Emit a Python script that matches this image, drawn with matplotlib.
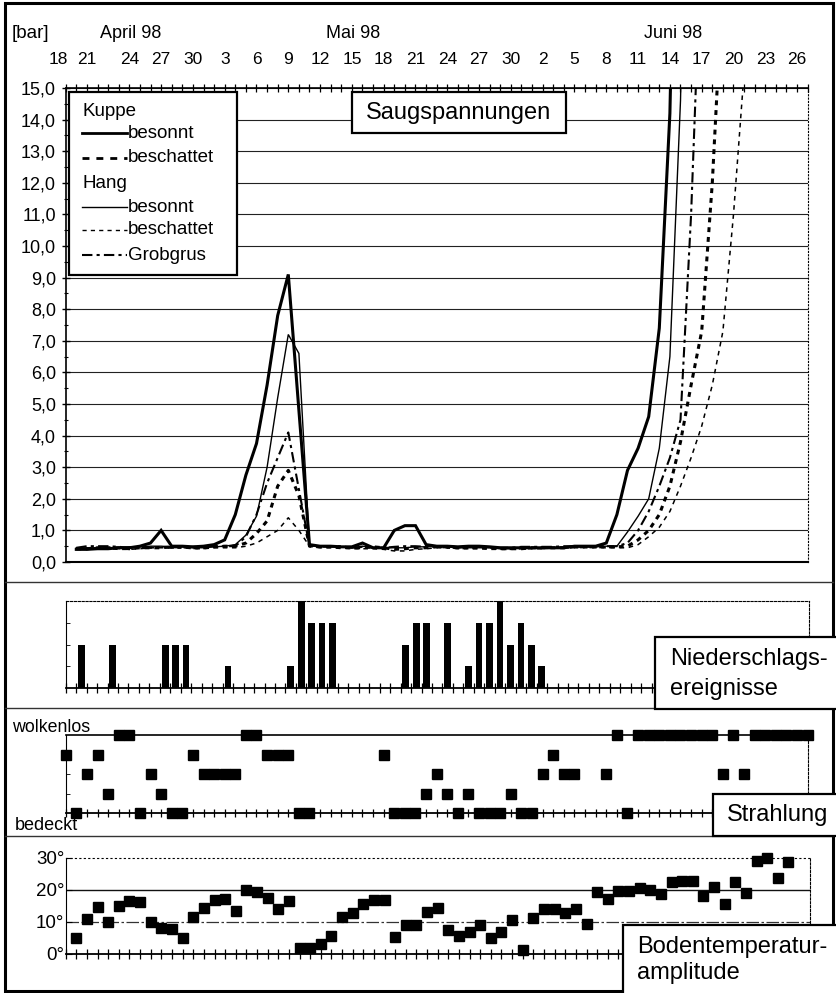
import matplotlib
matplotlib.use("Agg")
import matplotlib.pyplot as plt
import numpy as np
from matplotlib.patches import Rectangle
from matplotlib.lines import Line2D
from matplotlib.ticker import MultipleLocator
from matplotlib.transforms import ScaledTranslation

plt.rcParams['font.family'] = ['Liberation Sans', 'DejaVu Sans']

# ---------------- data (day index 0 = 18 April 1998) ----------------
tick_labels = ['18', '21', '24', '27', '30', '3', '6', '9', '12', '15', '18', '21',
               '24', '27', '30', '2', '5', '8', '11', '14', '17', '20', '23', '26']
months = ['April 98', 'Mai 98', 'Juni 98']

kuppe_besonnt = [None, 0.40, 0.40, 0.42, 0.42, 0.45, 0.45, 0.50, 0.60, 1.00, 0.50, 0.50, 0.48,
                 0.50, 0.55, 0.70, 1.50, 2.75, 3.75, 5.60, 7.80, 9.10, 4.80, 0.55, 0.50, 0.50,
                 0.48, 0.48, 0.60, 0.45, 0.45, 1.00, 1.15, 1.15, 0.55, 0.50, 0.50, 0.48, 0.50,
                 0.50, 0.48, 0.45, 0.45, 0.45, 0.45, 0.45, 0.45, 0.45, 0.50, 0.50, 0.50, 0.60,
                 1.50, 2.90, 3.60, 4.60, 7.40, 14.20, 30.0]
kuppe_beschattet = [None, 0.42, 0.42, 0.45, 0.45, 0.45, 0.42, 0.45, 0.45, 0.45, 0.48, 0.48, 0.45,
                    0.45, 0.48, 0.50, 0.50, 0.60, 0.90, 1.30, 2.40, 2.90, 2.10, 0.50, 0.48, 0.48,
                    0.45, 0.45, 0.45, 0.48, 0.45, 0.40, 0.42, 0.45, 0.45, 0.48, 0.48, 0.45, 0.45,
                    0.45, 0.45, 0.42, 0.42, 0.42, 0.45, 0.45, 0.45, 0.45, 0.48, 0.48, 0.48, 0.48,
                    0.48, 0.50, 0.70, 1.00, 1.50, 2.40, 3.80, 5.60, 7.30, 12.0, 18.5]
hang_besonnt = [None, 0.45, 0.45, 0.45, 0.45, 0.45, 0.48, 0.48, 0.50, 0.50, 0.48, 0.48, 0.45,
                0.45, 0.48, 0.50, 0.55, 0.85, 1.45, 3.00, 5.20, 7.20, 6.60, 0.50, 0.50, 0.48,
                0.48, 0.45, 0.50, 0.45, 0.45, 0.45, 0.45, 0.48, 0.48, 0.50, 0.48, 0.48, 0.45,
                0.45, 0.45, 0.42, 0.42, 0.45, 0.45, 0.45, 0.45, 0.48, 0.48, 0.48, 0.48, 0.50,
                0.50, 0.95, 1.45, 2.00, 3.60, 6.50, 14.60, 30.0]
hang_beschattet = [None, 0.40, 0.40, 0.42, 0.42, 0.40, 0.40, 0.42, 0.45, 0.45, 0.45, 0.45, 0.42,
                   0.42, 0.45, 0.45, 0.45, 0.50, 0.60, 0.80, 1.00, 1.40, 1.00, 0.50, 0.45, 0.45,
                   0.45, 0.42, 0.42, 0.42, 0.40, 0.35, 0.35, 0.40, 0.42, 0.45, 0.45, 0.42, 0.42,
                   0.42, 0.40, 0.40, 0.40, 0.42, 0.42, 0.42, 0.45, 0.45, 0.45, 0.45, 0.45, 0.45,
                   0.45, 0.45, 0.55, 0.80, 1.10, 1.60, 2.40, 3.30, 4.30, 5.60, 7.30, 11.0, 15.5, 25.0]
grobgrus = [None, 0.45, 0.50, 0.50, 0.50, 0.48, 0.45, 0.45, 0.45, 0.48, 0.45, 0.45, 0.48,
            0.48, 0.50, 0.50, 0.50, 0.80, 1.50, 2.50, 3.30, 4.10, 2.30, 0.50, 0.48, 0.50,
            0.50, 0.45, 0.48, 0.45, 0.45, 0.48, 0.50, 0.50, 0.48, 0.48, 0.45, 0.45, 0.48,
            0.48, 0.45, 0.45, 0.45, 0.48, 0.48, 0.48, 0.48, 0.50, 0.50, 0.50, 0.50, 0.50,
            0.50, 0.60, 1.00, 1.60, 2.40, 3.30, 4.50, 11.0, 20.0]

rain_days = [1, 4, 9, 10, 11, 15, 21, 22, 23, 24, 25, 32, 33, 34, 36, 38, 39, 40, 41, 42, 43, 44, 45]
rain_level = [2, 2, 2, 2, 2, 1, 1, 4, 3, 3, 3, 2, 3, 3, 3, 1, 3, 3, 4, 2, 3, 2, 1]

strahlung = [3, 0, 2, 3, 1, 4, 4, 0, 2, 1, 0, 0, 3, 2, 2, 2, 2, 4, 4, 3, 3, 3, 0, 0,
             None, None, None, None, None, None,
             3, 0, 0, 0, 1, 2, 1, 0, 1, 0, 0, 0, 1, 0, 0, 2, 3, 2, 2,
             None, None,
             2, 4, 0, 4, 4, 4, 4, 4, 4, 4, 4, 2, 4, 2, 4, 4, 4, 4, 4, 4]

bodentemp = [None, 4.9, 10.8, 14.8, 9.9, 15.1, 16.7, 16.1, 9.9, 8.0, 7.7, 4.9, 11.7, 14.3,
             16.9, 17.2, 13.5, 20.0, 19.5, 17.4, 14.0, 16.6, 1.8, 2.0, 3.0, 5.6, 11.5, 12.7,
             15.5, 16.9, 16.9, 5.4, 9.1, 9.1, 13.0, 14.3, 7.5, 5.7, 6.8, 9.1, 5.1, 7.0, 10.6,
             1.25, 11.1, 14.0, 14.0, 12.7, 14.0, 9.4, 19.3, 17.2, 19.7, 19.7, 20.7, 20.0,
             18.75, 22.4, 22.8, 22.9, 18.2, 21.0, 15.6, 22.6, 19.2, 29.2, 29.9, 23.7, 28.7]

# ---------------- layout helpers (pixel coords, origin top-left) ----------------
W, H = 836, 993
fig = plt.figure(figsize=(W / 100, H / 100), dpi=100)


def fx(x):
    return x / W


def fy(y):
    return 1 - y / H


def axrect(l, t, r, b):
    return [l / W, 1 - b / H, (r - l) / W, (b - t) / H]


def arr(s):
    return np.array([np.nan if v is None else v for v in s], dtype=float)


XL, XR = 65.7, 807.7
NDAYS = 70

# ---------------- main chart ----------------
ax = fig.add_axes(axrect(XL, 88, XR, 562))
ax.set_xlim(0, NDAYS)
ax.set_ylim(0, 15)
for yv in range(1, 16):
    ax.axhline(yv, color='#222222', lw=0.8, zorder=1)

styles = [
    (kuppe_besonnt, dict(color='black', lw=2.2, ls='-')),
    (hang_besonnt, dict(color='black', lw=1.0, ls='-')),
    (grobgrus, dict(color='black', lw=1.5, dashes=(5, 2, 1.5, 2))),
    (kuppe_beschattet, dict(color='black', lw=2.2, dashes=(1.6, 1.6))),
    (hang_beschattet, dict(color='black', lw=1.1, dashes=(3, 3))),
]
for s, st in styles:
    a = arr(s)
    ax.plot(np.arange(len(a)), a, zorder=3, solid_joinstyle='miter', **st)

ax.set_yticks(np.arange(0, 16))
ax.set_yticklabels([f"{v:.1f}".replace('.', ',') for v in np.arange(0, 16)])
ax.yaxis.set_minor_locator(MultipleLocator(0.5))
ax.tick_params(axis='y', which='major', direction='inout', length=6, width=1, labelsize=13, pad=4)
ax.tick_params(axis='y', which='minor', direction='inout', length=3, width=0.8)

ax.xaxis.tick_top()
ax.set_xticks(np.arange(0, NDAYS, 3))
ax.set_xticklabels(tick_labels)
ax.xaxis.set_minor_locator(MultipleLocator(1))
ax.tick_params(axis='x', which='both', top=True, bottom=False, direction='inout', length=6,
               width=0.9, labelsize=12.5, pad=12)
# the first two labels sit a little to the left in the original
for lab, dx in zip(ax.get_xticklabels()[:2], (-7, -11)):
    lab.set_transform(lab.get_transform() + ScaledTranslation(dx / 100, 0, fig.dpi_scale_trans))
ax.spines['right'].set_linestyle((0, (1, 2)))
ax.spines['right'].set_linewidth(0.8)
ax.spines['left'].set_linewidth(1.2)
ax.spines['top'].set_linewidth(1.2)
ax.spines['bottom'].set_linewidth(1.5)

# ---------------- precipitation ----------------
axp = fig.add_axes(axrect(XL, 601, XR + 1, 688))
axp.set_xlim(-0.43, 70.4)
axp.set_ylim(0, 4)
axp.bar(rain_days, rain_level, width=0.65, color='black', zorder=3)
axp.set_xticks(np.arange(-0.5, 70.6, 1))
axp.set_xticklabels([])
axp.set_yticks([1, 2, 3])
axp.set_yticklabels([])
axp.tick_params(axis='x', direction='inout', length=7, width=0.9)
axp.tick_params(axis='y', direction='in', length=3, width=0.6)
axp.spines['top'].set_linestyle((0, (2, 1.5)))
axp.spines['top'].set_linewidth(0.8)
axp.spines['right'].set_linestyle((0, (2, 1.5)))
axp.spines['right'].set_linewidth(0.8)
axp.spines['bottom'].set_linewidth(1.3)

# ---------------- radiation ----------------
axr = fig.add_axes(axrect(XL, 735, XR, 813))
axr.set_xlim(0, NDAYS)
axr.set_ylim(0, 4)
ra = arr(strahlung)
axr.plot(np.arange(len(ra)), ra, ls='none', marker='s', ms=7.2, color='black',
         clip_on=False, zorder=4)
axr.set_xticks(np.arange(0, NDAYS + 1, 1))
axr.set_xticklabels([])
axr.set_yticks([1, 2, 3])
axr.set_yticklabels([])
axr.tick_params(axis='x', direction='inout', length=6, width=0.9)
axr.tick_params(axis='y', direction='in', length=3, width=0.6)
axr.spines['top'].set_linewidth(1.2)
axr.spines['bottom'].set_linewidth(1.3)
axr.spines['right'].set_linestyle((0, (2, 1.5)))
axr.spines['right'].set_linewidth(0.8)

# ---------------- soil temperature amplitude ----------------
axt = fig.add_axes(axrect(XL, 858, XR + 2, 954))
axt.set_xlim(0, NDAYS)
axt.set_ylim(0, 30)
ta = arr(bodentemp)
axt.plot(np.arange(len(ta)), ta, ls='none', marker='s', ms=6.8, color='black',
         clip_on=False, zorder=4)
axt.axhline(10, color='#333333', lw=0.9, dashes=(10, 2, 2, 2), zorder=1)
axt.axhline(20, color='#111111', lw=1.0, zorder=1)
axt.set_yticks([0, 10, 20, 30])
axt.set_yticklabels(['0°', '10°', '20°', '30°'])
axt.set_xticks(np.arange(0, NDAYS + 1, 1))
axt.set_xticklabels([])
axt.tick_params(axis='x', direction='inout', length=7, width=0.9)
axt.tick_params(axis='y', direction='in', length=4, width=0.8, labelsize=13.5, pad=1)
axt.spines['top'].set_linestyle((0, (1, 3)))
axt.spines['top'].set_linewidth(0.8)
axt.spines['right'].set_linestyle((0, (2, 1.5)))
axt.spines['right'].set_linewidth(0.8)
axt.spines['bottom'].set_linewidth(1.3)

# ---------------- figure decorations ----------------
fig.add_artist(Rectangle((fx(5), fy(991)), (833 - 5) / W, (991 - 3) / H, transform=fig.transFigure,
                         fill=False, lw=2.2, ec='black', zorder=0))
for ysep in (582, 708, 836):
    fig.add_artist(Line2D([fx(5), fx(833)], [fy(ysep), fy(ysep)], color='#333333', lw=1.0))

fig.text(fx(12), fy(33), '[bar]', fontsize=13.5, ha='left', va='center')
fig.text(fx(131), fy(33), months[0], fontsize=13, ha='center', va='center')
fig.text(fx(353), fy(33), months[1], fontsize=13, ha='center', va='center')
fig.text(fx(673), fy(33), months[2], fontsize=13, ha='center', va='center')

# legend box
fig.add_artist(Rectangle((fx(69), fy(275)), (237 - 69) / W, (275 - 92) / H, transform=fig.transFigure,
                         facecolor='white', edgecolor='black', lw=1.6, zorder=5))
leg_items = [
    ('Kuppe', 112, None),
    ('besonnt', 133, dict(color='black', lw=2.0)),
    ('beschattet', 158, dict(color='black', lw=2.0, dashes=(2.5, 2.5))),
    ('Hang', 183, None),
    ('besonnt', 207, dict(color='black', lw=1.0)),
    ('beschattet', 230, dict(color='black', lw=1.0, dashes=(3, 3))),
    ('Grobgrus', 255, dict(color='black', lw=1.5, dashes=(5, 2, 1.5, 2))),
]
for label, yy, st in leg_items:
    if st is None:
        fig.text(fx(82), fy(yy), label, fontsize=13.5, ha='left', va='center', zorder=6)
    else:
        fig.add_artist(Line2D([fx(82), fx(127)], [fy(yy), fy(yy)], zorder=6, **st))
        fig.text(fx(128), fy(yy), label, fontsize=13.5, ha='left', va='center', zorder=6)

# title box
fig.add_artist(Rectangle((fx(352), fy(133)), (566 - 352) / W, (133 - 92) / H, transform=fig.transFigure,
                         facecolor='white', edgecolor='black', lw=1.6, zorder=5))
fig.text(fx(459), fy(113), 'Saugspannungen', fontsize=17, ha='center', va='center', zorder=6)

# Niederschlag box
fig.add_artist(Rectangle((fx(655), fy(709)), (840 - 655) / W, (709 - 637) / H, transform=fig.transFigure,
                         facecolor='white', edgecolor='black', lw=1.6, zorder=5))
fig.text(fx(670), fy(659), 'Niederschlags-', fontsize=17, ha='left', va='center', zorder=6)
fig.text(fx(670), fy(689), 'ereignisse', fontsize=17, ha='left', va='center', zorder=6)

# Strahlung box and labels
fig.add_artist(Rectangle((fx(713), fy(836)), (840 - 713) / W, (836 - 794) / H, transform=fig.transFigure,
                         facecolor='white', edgecolor='black', lw=1.6, zorder=5))
fig.text(fx(727), fy(815), 'Strahlung', fontsize=17, ha='left', va='center', zorder=6)
fig.text(fx(12), fy(728), 'wolkenlos', fontsize=12.8, ha='left', va='center')
fig.text(fx(15), fy(825), 'bedeckt', fontsize=13, ha='left', va='center')

# Bodentemperatur box
fig.add_artist(Rectangle((fx(623), fy(998)), (840 - 623) / W, (998 - 925) / H, transform=fig.transFigure,
                         facecolor='white', edgecolor='black', lw=1.6, zorder=5))
fig.text(fx(637), fy(947), 'Bodentemperatur-', fontsize=17, ha='left', va='center', zorder=6)
fig.text(fx(637), fy(973), 'amplitude', fontsize=17, ha='left', va='center', zorder=6)

fig.savefig('out.png', dpi=100)
